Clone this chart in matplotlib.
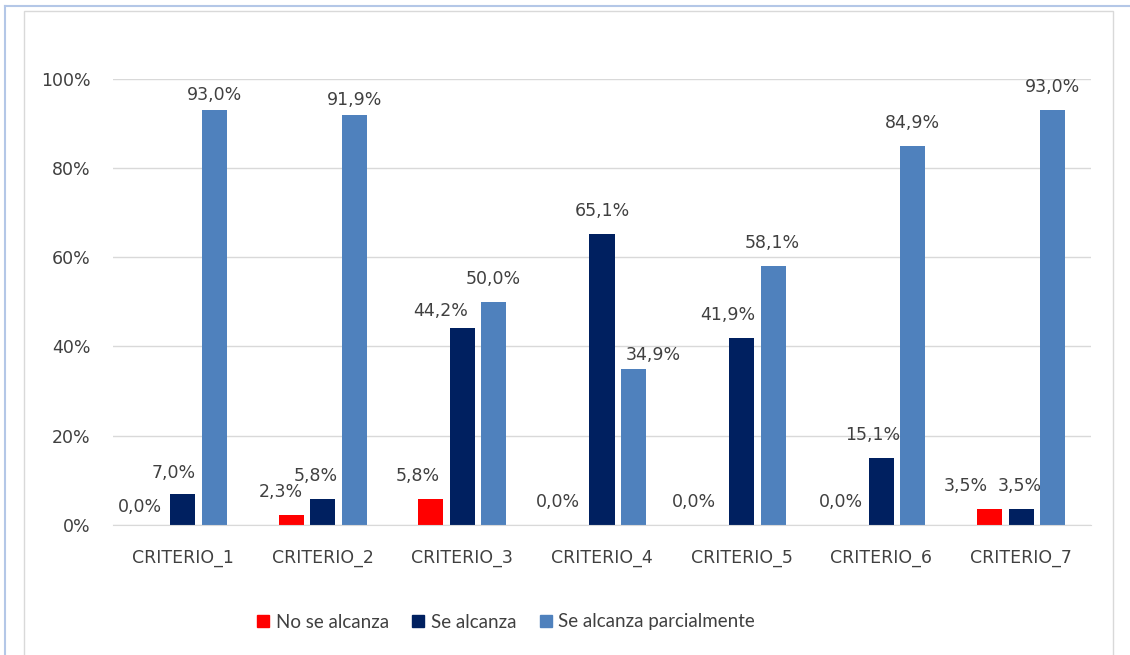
import numpy as np
import matplotlib.pyplot as plt
from matplotlib.lines import Line2D
from matplotlib.patches import Rectangle

categories = ["CRITERIO_1", "CRITERIO_2", "CRITERIO_3", "CRITERIO_4",
              "CRITERIO_5", "CRITERIO_6", "CRITERIO_7"]
no_se_alcanza = [0.0, 2.3, 5.8, 0.0, 0.0, 0.0, 3.5]
se_alcanza = [7.0, 5.8, 44.2, 65.1, 41.9, 15.1, 3.5]
se_alcanza_parcial = [93.0, 91.9, 50.0, 34.9, 58.1, 84.9, 93.0]
series_names = ["No se alcanza", "Se alcanza", "Se alcanza parcialmente"]
yticks = [0, 20, 40, 60, 80, 100]

colors = ["#ff0000", "#002060", "#4f81bd"]

# label nudges in pixels (excel moved some labels to avoid overlap)
dx = [[-11, -10, -13, -13, -16, -9, -24],
      [-9, -7, -22, 0, -14, -9, -1],
      [0, 0, -1, 20, -1, 0, 0]]
dy = [[-5, 0, 0, 0, 0, 0, 0],
      [-2, 0, -6, 0, 0, 0, 0],
      [-8, -8, 0, -9, 0, 0, 0]]

plt.rcParams['font.family'] = ['DejaVu Sans']
txt = "#404040"

fig = plt.figure(figsize=(11.3, 6.55), dpi=100)
ax = fig.add_axes([113/1130, 1-525/655, (1091-113)/1130, (525-78.5)/655])

x = np.arange(len(categories))
w = 0.179
step = 0.2255
data = [no_se_alcanza, se_alcanza, se_alcanza_parcial]
px = 72 / 100.0
for k, vals in enumerate(data):
    pos = x + (k - 1) * step
    ax.bar(pos, vals, width=w, color=colors[k], zorder=3)
    for i, v in enumerate(vals):
        lab = ("%.1f%%" % v).replace(".", ",")
        ax.annotate(lab, (pos[i], v), xytext=(dx[k][i]*px, (23 + dy[k][i])*px),
                    textcoords="offset points", ha="center", va="center",
                    fontsize=12.5, color=txt, annotation_clip=False)

ax.set_xlim(-0.5, len(categories) - 0.5)
ax.set_ylim(0, 100)
ax.set_yticks(yticks)
ax.set_yticklabels(["%d%%" % t for t in yticks])
ax.set_xticks(x)
ax.set_xticklabels(categories)
ax.tick_params(axis="both", length=0, labelsize=12.5, labelcolor=txt)
ax.tick_params(axis="y", pad=16)
ax.tick_params(axis="x", pad=17)
ax.grid(axis="y", color="#d9d9d9", linewidth=1, zorder=0)
for s in ["top", "right", "left"]:
    ax.spines[s].set_visible(False)
ax.spines["bottom"].set_color("#d9d9d9")
ax.spines["bottom"].set_zorder(4)

handles = [Rectangle((0, 0), 1, 1, color=c) for c in colors]
fig.legend(handles, series_names, loc="center", bbox_to_anchor=(506/1130, 1-622/655),
           ncol=3, frameon=False, handlelength=0.65, handleheight=0.65,
           handletextpad=0.35, columnspacing=1.25, labelcolor=txt,
           prop={"family": "Lato", "size": 13.5})

# chart area border + outer frame lines
fig.add_artist(Rectangle((24/1130, -0.01), (1113-24)/1130, 1.01-11/655,
                         transform=fig.transFigure, fill=False,
                         edgecolor="#d9d9d9", linewidth=1))
fig.add_artist(Line2D([5/1130, 1], [1-6/655, 1-6/655], transform=fig.transFigure,
                      color="#b4c7e7", linewidth=1.5))
fig.add_artist(Line2D([5/1130, 5/1130], [0, 1-6/655], transform=fig.transFigure,
                      color="#b4c7e7", linewidth=1.5))

fig.savefig("out.png", dpi=100)
